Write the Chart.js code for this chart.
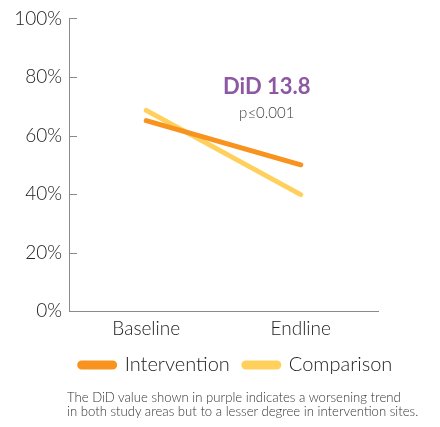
<!DOCTYPE html>
<html>
<head>
<meta charset="utf-8">
<script src="https://cdn.jsdelivr.net/npm/chart.js@4"></script>
<style>
  html,body{margin:0;padding:0;background:#fff;}
  #wrap{position:relative;width:440px;height:427px;}
  #c{position:absolute;left:0;top:0;}
  #cap{position:absolute;left:67px;top:390px;font-family:Lato,"Open Sans",sans-serif;font-weight:300;font-size:13.15px;line-height:14px;color:#333;white-space:nowrap;}
</style>
</head>
<body>
<div id="wrap">
<canvas id="c" width="440" height="390"></canvas>
<div id="cap">The DiD value shown in purple indicates a worsening trend<br>in both study areas but to a lesser degree in intervention sites.</div>
</div>
<script>
const categories = ["Baseline", "Endline"];
const seriesNames = ["Intervention", "Comparison"];
const intervention = [65.1, 50.0];
const comparison = [68.6, 39.8];
const yTicks = [0, 20, 40, 60, 80, 100];
const didLabel = "DiD 13.8";
const pLabel = "p\u22640.001";

const FONT = "Lato, 'Open Sans', sans-serif";
const ORANGE = "#F7931E";
const YELLOW = "#FFD15C";
const PURPLE = "#8D58A3";
const AXIS = "#8a8a8a";

const annot = {
  id: "annot",
  afterLayout(chart) {
    const lg = chart.legend;
    lg.left += 47; lg.right += 47;
    lg.top -= 5; lg.bottom -= 5;
  },
  afterDraw(chart) {
    const ctx = chart.ctx;
    const y = chart.scales.y;
    const ax = chart.chartArea.left;
    ctx.save();
    ctx.strokeStyle = AXIS;
    ctx.lineWidth = 1;
    for (const t of y.ticks) {
      const py = Math.round(y.getPixelForValue(t.value)) + 0.5;
      ctx.beginPath();
      ctx.moveTo(ax, py);
      ctx.lineTo(ax + 8, py);
      ctx.stroke();
    }
    ctx.restore();
  },
  afterDatasetsDraw(chart) {
    const {ctx, scales:{x, y}} = chart;
    const x0 = x.getPixelForValue(0), x1 = x.getPixelForValue(1);
    const cx = x0 + 0.78 * (x1 - x0);
    ctx.save();
    ctx.textAlign = "center";
    ctx.textBaseline = "middle";
    ctx.fillStyle = PURPLE;
    ctx.font = "bold 22px " + FONT;
    ctx.fillText(didLabel, cx, y.getPixelForValue(76.5));
    ctx.fillStyle = "#444";
    ctx.font = "300 15px " + FONT;
    ctx.fillText(pLabel, cx, y.getPixelForValue(67.6));
    ctx.restore();
  }
};

new Chart(document.getElementById("c"), {
  type: "line",
  data: {
    labels: categories,
    datasets: [
      {label: seriesNames[0], data: intervention, borderColor: ORANGE, backgroundColor: ORANGE, borderWidth: 5, borderCapStyle: "round", pointRadius: 0, tension: 0},
      {label: seriesNames[1], data: comparison, borderColor: YELLOW, backgroundColor: YELLOW, borderWidth: 5, borderCapStyle: "round", pointRadius: 0, tension: 0}
    ]
  },
  options: {
    responsive: false,
    animation: false,
    layout: {padding: {top: 2, right: 62, left: 0, bottom: 0}},
    plugins: {
      legend: {
        position: "bottom",
        labels: {
          font: {family: FONT, size: 20, weight: 300},
          color: "#222",
          boxWidth: 35,
          boxHeight: 4,
          useBorderRadius: true,
          borderRadius: 2,
          padding: 14
        }
      },
      tooltip: {enabled: false}
    },
    scales: {
      x: {
        offset: true,
        grid: {display: false, drawTicks: false},
        border: {display: true, color: AXIS, width: 1},
        ticks: {font: {family: FONT, size: 19, weight: 300}, color: "#222", padding: 6}
      },
      y: {
        min: yTicks[0], max: yTicks[yTicks.length - 1],
        grid: {drawOnChartArea: false, drawTicks: false},
        border: {display: true, color: AXIS, width: 1},
        afterFit(s) { s.width = 69; },
        ticks: {stepSize: yTicks[1] - yTicks[0], font: {family: FONT, size: 19, weight: 300}, color: "#222", padding: 7, callback: v => v + "%"}
      }
    }
  },
  plugins: [annot]
});
</script>
</body>
</html>
